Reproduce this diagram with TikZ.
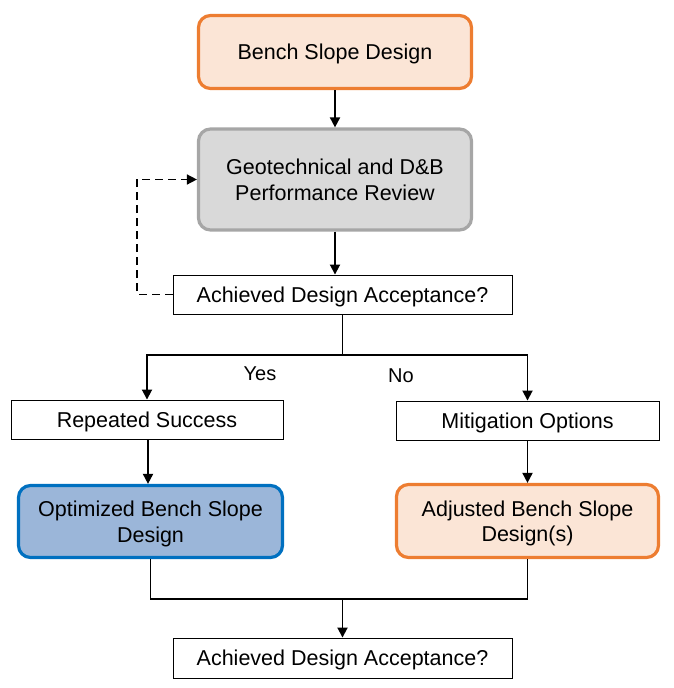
\documentclass[tikz,border=0pt]{standalone}
\usepackage{fontspec}
\setmainfont{Liberation Sans}
\usetikzlibrary{arrows.meta,positioning}
\definecolor{orgB}{HTML}{ED7D31}
\definecolor{orgF}{HTML}{FBE5D6}
\definecolor{grB}{HTML}{A6A6A6}
\definecolor{grF}{HTML}{D9D9D9}
\definecolor{bluB}{HTML}{0070C0}
\definecolor{bluF}{HTML}{9BB6D9}
\tikzset{
  txt/.style={font=\fontsize{21.5}{25.5}\selectfont, align=center, inner sep=0pt, text depth=0pt},
  roundbox/.style={txt, rounded corners=12pt, line width=3.2pt},
  orangebox/.style={roundbox, draw=orgB, fill=orgF},
  graybox/.style={roundbox, draw=grB, fill=grF},
  bluebox/.style={roundbox, draw=bluB, fill=bluF},
  plainbox/.style={txt, draw=black, line width=0.9pt, fill=white},
  conn/.style={line width=1.8pt, -{Triangle[length=10pt,width=10pt]}},
  line/.style={line width=1.8pt},
  dashconn/.style={line width=1.6pt, dash pattern=on 8pt off 5pt, -{Triangle[length=10pt,width=10pt]}},
  lbl/.style={font=\fontsize{20}{24}\selectfont, inner sep=0pt}
}
\begin{document}
\begin{tikzpicture}[x=1pt,y=-1pt]
\useasboundingbox (0,0) rectangle (674,688);
\node[orangebox, minimum width=273pt, minimum height=73pt] (bsd) at (335,52) {Bench Slope Design};
\node[graybox, minimum width=273pt, minimum height=101pt] (geo) at (335,179.5) {Geotechnical and D\&B\\Performance Review};
\node[plainbox, minimum width=339pt, minimum height=39pt] (acc1) at (342.5,294.5) {Achieved Design Acceptance?};
\node[plainbox, minimum width=272pt, minimum height=39pt] (rep) at (147,419.5) {Repeated Success};
\node[plainbox, minimum width=263pt, minimum height=39pt] (mit) at (527.5,420.5) {Mitigation Options};
\node[bluebox, minimum width=264pt, minimum height=72pt] (opt) at (150.5,521.5) {Optimized Bench Slope\\Design};
\node[orangebox, minimum width=262pt, minimum height=73pt] (adj) at (527.5,521) {Adjusted Bench Slope\\Design(s)};
\node[plainbox, minimum width=339pt, minimum height=40pt] (acc2) at (342.5,658) {Achieved Design Acceptance?};
\coordinate (split) at (342.5,355);
\coordinate (merge) at (342.5,599);
\coordinate (loop) at (137,294.5);
\node[lbl] (yes) at (260,374) {Yes};
\node[lbl] (no) at (401,376) {No};
\draw[conn] (bsd.south) -- (geo.north);
\draw[conn] (geo.south) -- (geo.south |- acc1.north);
\draw[line] (acc1.south) -- (split);
\draw[conn] (split) -| (rep.north);
\draw[conn] (split) -| (mit.north);
\draw[conn] (rep.south -| 148,0) -- (opt.north -| 148,0);
\draw[conn] (mit.south) -- (adj.north);
\draw[line] (opt.south) |- (merge) -| (adj.south);
\draw[conn] (merge) -- (acc2.north);
\draw[dashconn] (acc1.west) -- (loop) |- (geo.west);
\end{tikzpicture}
\end{document}
